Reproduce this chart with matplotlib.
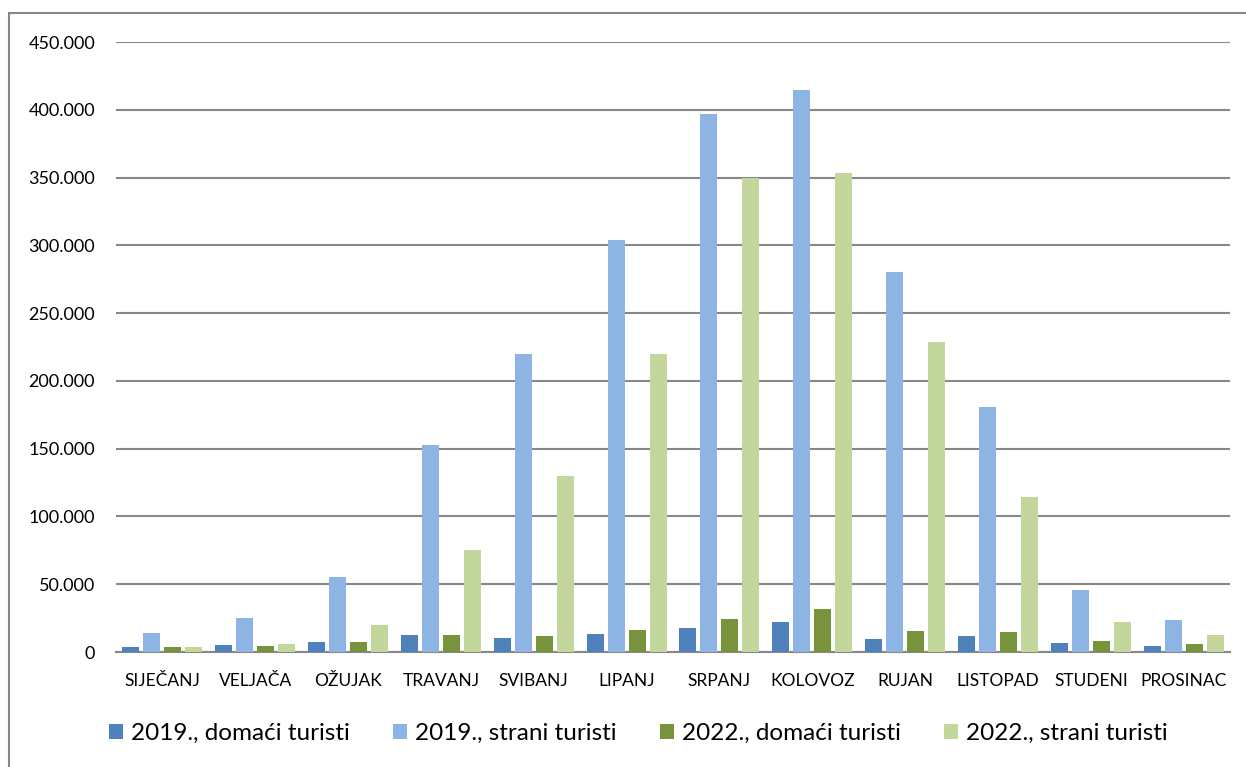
import numpy as np
import matplotlib.pyplot as plt
from matplotlib.patches import Rectangle
from matplotlib.ticker import FuncFormatter, MultipleLocator

plt.rcParams['font.family'] = ['Lato', 'DejaVu Sans']

# months and monthly tourist arrivals
months = ['SIJEČANJ', 'VELJAČA', 'OŽUJAK', 'TRAVANJ', 'SVIBANJ', 'LIPANJ',
          'SRPANJ', 'KOLOVOZ', 'RUJAN', 'LISTOPAD', 'STUDENI', 'PROSINAC']
domaci_2019 = [3900, 5400, 7400, 12300, 10100, 13300, 17500, 22100, 9600, 11600, 6400, 4700]
strani_2019 = [14000, 25300, 55100, 152700, 219500, 304000, 397000, 414500, 280000, 180700, 45500, 23600]
domaci_2022 = [3900, 4600, 7100, 12500, 11600, 16200, 24300, 31500, 15500, 14800, 7900, 5700]
strani_2022 = [3700, 5900, 19900, 75300, 129800, 219500, 349700, 353400, 228700, 114300, 22400, 12500]

series = [
    (domaci_2019, '2019., domaći turisti', '#4F81BD'),
    (strani_2019, '2019., strani turisti', '#8EB4E3'),
    (domaci_2022, '2022., domaći turisti', '#77933C'),
    (strani_2022, '2022., strani turisti', '#C3D69B'),
]

fig = plt.figure(figsize=(12.46, 7.67), dpi=100)
ax = fig.add_axes([0.0931, 0.1499, 0.8941, 0.7953])

x = np.arange(len(months))
step = 0.226
width = 0.183
for i, (vals, label, color) in enumerate(series):
    ax.bar(x + (i - 1.5) * step, vals, width=width, color=color, label=label,
           zorder=3)

ax.set_xlim(-0.5, len(months) - 0.5)
ax.set_ylim(0, 450000)
ax.yaxis.set_major_locator(MultipleLocator(50000))
ax.yaxis.set_major_formatter(FuncFormatter(lambda v, p: f'{int(v):,}'.replace(',', '.')))
ax.grid(axis='y', color='#888888', linewidth=1.5, zorder=0)
ax.set_xticks(x)
ax.set_xticklabels(months)
ax.tick_params(axis='both', length=0, colors='black')
ax.tick_params(axis='y', pad=15, labelsize=13)
ax.tick_params(axis='x', pad=15, labelsize=12.5)
for s in ['top', 'right', 'left']:
    ax.spines[s].set_visible(False)
ax.spines['bottom'].set_color('#888888')
ax.spines['bottom'].set_linewidth(1.5)

ax.legend(loc='center', bbox_to_anchor=(0.469, -0.133), ncol=4, frameon=False,
          fontsize=17.5, handlelength=0.58, handleheight=0.58, handletextpad=0.35,
          columnspacing=1.75, borderpad=0, borderaxespad=0)

# outer chart border
fig.patches.append(Rectangle((8.5 / 1246, -0.01), 1.2, 1 - 13 / 767 + 0.01,
                             transform=fig.transFigure, fill=False,
                             edgecolor='#888888', linewidth=1.5))

fig.savefig('out.png', dpi=100)
